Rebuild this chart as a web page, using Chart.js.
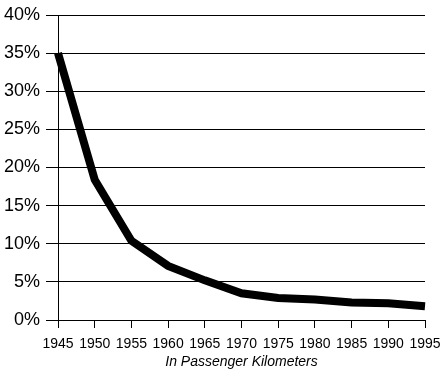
<!DOCTYPE html>
<html>
<head>
<meta charset="utf-8">
<script src="https://cdn.jsdelivr.net/npm/chart.js@4"></script>
<style>
html,body{margin:0;padding:0;background:#fff;}
#wrap{width:445px;height:381px;position:relative;}
</style>
</head>
<body>
<div id="wrap"><canvas id="c" width="445" height="381"></canvas></div>
<script>
const years = ['1945','1950','1955','1960','1965','1970','1975','1980','1985','1990','1995'];
const shares = [35.0, 18.4, 10.4, 7.1, 5.2, 3.5, 2.9, 2.7, 2.3, 2.2, 1.8];
const xTitle = 'In Passenger Kilometers';

new Chart(document.getElementById('c'), {
  type: 'line',
  data: {
    labels: years,
    datasets: [{
      data: shares,
      borderColor: '#000',
      borderWidth: 8,
      pointRadius: 0,
      tension: 0,
      borderCapStyle: 'butt',
      borderJoinStyle: 'miter',
      fill: false
    }]
  },
  options: {
    responsive: false,
    animation: false,
    devicePixelRatio: 1,
    layout: { padding: { left: 0, right: 20, top: 15, bottom: 10 } },
    plugins: { legend: { display: false }, tooltip: { enabled: false } },
    scales: {
      x: {
        type: 'category',
        offset: false,
        grid: { drawOnChartArea: false, drawTicks: true, tickLength: 8, color: '#000', lineWidth: 1 },
        border: { display: true, color: '#000', width: 1 },
        ticks: { color: '#000', font: { family: 'Liberation Sans, Arial, sans-serif', size: 14 }, padding: 8, maxRotation: 0, autoSkip: false },
        title: { display: true, text: xTitle, color: '#000', font: { family: 'Liberation Sans, Arial, sans-serif', size: 14, style: 'italic' }, padding: { top: 0, bottom: 0 } },
        afterFit: s => { s.height = 51; s.paddingLeft = 0; s.paddingRight = 0; }
      },
      y: {
        min: 0, max: 40,
        ticks: { stepSize: 5, color: '#000', font: { family: 'Liberation Sans, Arial, sans-serif', size: 18 }, padding: 6, callback: v => v + '%' },
        grid: { color: '#000', lineWidth: 1, drawTicks: true, tickLength: 12 },
        border: { display: true, color: '#000', width: 1 },
        afterFit: s => { s.width = 58; s.paddingTop = 0; s.paddingBottom = 0; }
      }
    }
  }
});
</script>
</body>
</html>
